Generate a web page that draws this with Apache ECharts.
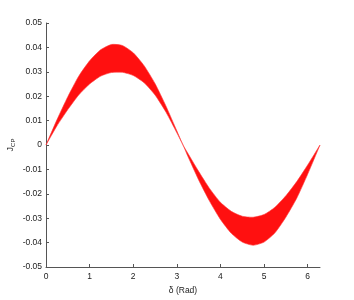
<!DOCTYPE html>
<html><head><meta charset="utf-8">
<script src="https://cdn.jsdelivr.net/npm/echarts@6/dist/echarts.min.js"></script>
<style>html,body{margin:0;padding:0;background:#fff}#c{width:354px;height:300px}</style>
</head><body><div id="c"></div>
<script>
// delta (rad) sample positions
const delta = [0, 0.25, 0.5, 0.75, 1, 1.25, 1.5, 1.75, 2, 2.25, 2.5, 2.75, 3, 3.1416,
  3.25, 3.5, 3.75, 4, 4.25, 4.5, 4.75, 5, 5.25, 5.5, 5.75, 6, 6.2832];
// upper envelope of the J_CP scatter band
const upperEnv = [0, 0.0103, 0.0198, 0.0282, 0.0345, 0.0390, 0.0412, 0.0408, 0.0378, 0.0325, 0.0252, 0.0160, 0.0058, 0,
  -0.0033, -0.0108, -0.0178, -0.0235, -0.0272, -0.0292, -0.0296, -0.0285, -0.0255, -0.0208, -0.0150, -0.0082, 0];
// lower envelope of the band
const lowerEnv = [0, 0.0078, 0.0145, 0.0205, 0.0250, 0.0282, 0.0297, 0.0298, 0.0285, 0.0255, 0.0205, 0.0135, 0.0050, 0,
  -0.0045, -0.0143, -0.0230, -0.0305, -0.0362, -0.0398, -0.0411, -0.0398, -0.0360, -0.0296, -0.0218, -0.0120, 0];

const yTicks = [-0.05, 0.05, 0.01];
const xTicks = [0, 6.2832, 1];

const chart = echarts.init(document.getElementById('c'));
const lbl = {color: '#222', fontSize: 8.5, fontFamily: 'Liberation Sans'};
const axisCommon = {
  axisLine: {show: true, onZero: false, lineStyle: {color: '#555', width: 1}},
  axisTick: {show: true, inside: true, length: 3, lineStyle: {color: '#555'}},
  splitLine: {show: false}
};
chart.setOption({
  animation: false,
  grid: {left: 46, right: 34, top: 23, bottom: 33, containLabel: false, outerBoundsMode: 'none'},
  xAxis: Object.assign({
    type: 'value', min: xTicks[0], max: xTicks[1], interval: xTicks[2],
    name: 'δ (Rad)', nameLocation: 'middle', nameGap: 16,
    nameTextStyle: lbl,
    axisLabel: Object.assign({margin: 5}, lbl)
  }, axisCommon),
  yAxis: Object.assign({
    type: 'value', min: yTicks[0], max: yTicks[1], interval: yTicks[2],
    name: '{a|J}{b|CP}', nameLocation: 'middle', nameGap: 30, nameRotate: 90,
    nameMoveOverlap: false,
    nameTextStyle: {rich: {
      a: {color: '#222', fontSize: 9, fontFamily: 'Liberation Sans'},
      b: {color: '#222', fontSize: 6, fontFamily: 'Liberation Sans', padding: [5, 0, 0, 0]}
    }},
    axisLabel: Object.assign({margin: 4}, lbl)
  }, axisCommon),
  series: [{
    type: 'custom',
    data: [[0]],
    renderItem: function (params, api) {
      const pts = [];
      for (let i = 0; i < delta.length; i++) pts.push(api.coord([delta[i], upperEnv[i]]));
      for (let i = delta.length - 1; i >= 0; i--) pts.push(api.coord([delta[i], lowerEnv[i]]));
      return {
        type: 'polygon',
        shape: {points: pts, smooth: 0.2},
        style: {fill: '#ff1010', stroke: 'rgba(255,60,60,0.6)', lineWidth: 1}
      };
    },
    silent: true
  }]
});
</script></body></html>
